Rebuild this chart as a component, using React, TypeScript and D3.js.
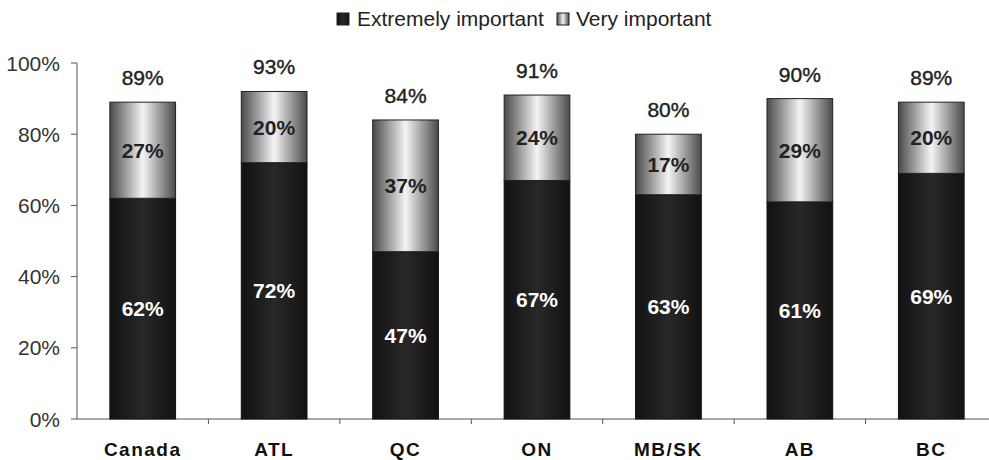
import React from "react";
import * as d3 from "d3";

const categories = ["Canada", "ATL", "QC", "ON", "MB/SK", "AB", "BC"];
const extremely = [62, 72, 47, 67, 63, 61, 69];
const very = [27, 20, 37, 24, 17, 29, 20];
const totals = [89, 93, 84, 91, 80, 90, 89];
const yTicks = [0, 20, 40, 60, 80, 100];
const seriesNames = ["Extremely important", "Very important"];

export default function App() {
  const W = 989, H = 460;
  const x = d3.scaleBand<string>().domain(categories).range([77, 997]).paddingInner(0.5).paddingOuter(0.25);
  const y = d3.scaleLinear().domain([0, 100]).range([419, 63]);
  const font = "'Liberation Sans', Arial, sans-serif";
  const step = x.step();
  return (
    <svg width={W} height={H} style={{ position: "absolute", left: 0, top: 0, background: "#fff" }}>
      <defs>
        <linearGradient id="lightG" x1="0" x2="1" y1="0" y2="0">
          <stop offset="0" stopColor="#4a4a4a" />
          <stop offset="0.5" stopColor="#f4f4f4" />
          <stop offset="1" stopColor="#4a4a4a" />
        </linearGradient>
        <linearGradient id="darkG" x1="0" x2="1" y1="0" y2="0">
          <stop offset="0" stopColor="#121212" />
          <stop offset="0.5" stopColor="#282828" />
          <stop offset="1" stopColor="#121212" />
        </linearGradient>
      </defs>
      {/* legend */}
      <g fontFamily={font} fontSize={21} fill="#222">
        <rect x={337} y={13} width={12} height={12} fill="url(#darkG)" stroke="#222" />
        <text x={357} y={26}>{seriesNames[0]}</text>
        <rect x={557} y={13} width={12} height={12} fill="url(#lightG)" stroke="#222" />
        <text x={576} y={26}>{seriesNames[1]}</text>
      </g>
      {/* y axis */}
      <line x1={77} x2={77} y1={y(100)} y2={y(0)} stroke="#555" />
      {yTicks.map((t) => (
        <g key={t}>
          <line x1={71} x2={77} y1={y(t)} y2={y(t)} stroke="#555" />
          <text x={60} y={y(t) + 7.5} textAnchor="end" fontFamily={font} fontSize={21} fill="#333">{t}%</text>
        </g>
      ))}
      {/* x axis */}
      <line x1={77} x2={997} y1={y(0)} y2={y(0)} stroke="#555" />
      {categories.map((c, i) => (
        <line key={c} x1={77 + step * (i + 1)} x2={77 + step * (i + 1)} y1={y(0)} y2={y(0) + 5} stroke="#555" />
      ))}
      {categories.map((c, i) => {
        const bx = x(c)!;
        const bw = x.bandwidth();
        const e = extremely[i];
        const v = very[i];
        const top = e + v;
        const cx = bx + bw / 2;
        return (
          <g key={c}>
            <rect x={bx} y={y(e)} width={bw} height={y(0) - y(e)} fill="url(#darkG)" stroke="#111" strokeWidth={1} />
            <rect x={bx} y={y(top)} width={bw} height={y(e) - y(top)} fill="url(#lightG)" stroke="#222" strokeWidth={1} />
            <text x={cx} y={(y(e) + y(0)) / 2 + 7.5} textAnchor="middle" fontFamily={font} fontWeight="bold" fontSize={21} fill="#fff">{e}%</text>
            <text x={cx} y={(y(e) + y(top)) / 2 + 7.5} textAnchor="middle" fontFamily={font} fontWeight="bold" fontSize={21} fill="#222">{v}%</text>
            <text x={cx} y={y(top) - 17} textAnchor="middle" fontFamily={font} fontSize={21} fill="#222" stroke="#222" strokeWidth={0.4}>{totals[i]}%</text>
            <text x={cx} y={456} textAnchor="middle" fontFamily={font} fontWeight="bold" fontSize={19} letterSpacing={1.5} fill="#111">{c}</text>
          </g>
        );
      })}
    </svg>
  );
}
